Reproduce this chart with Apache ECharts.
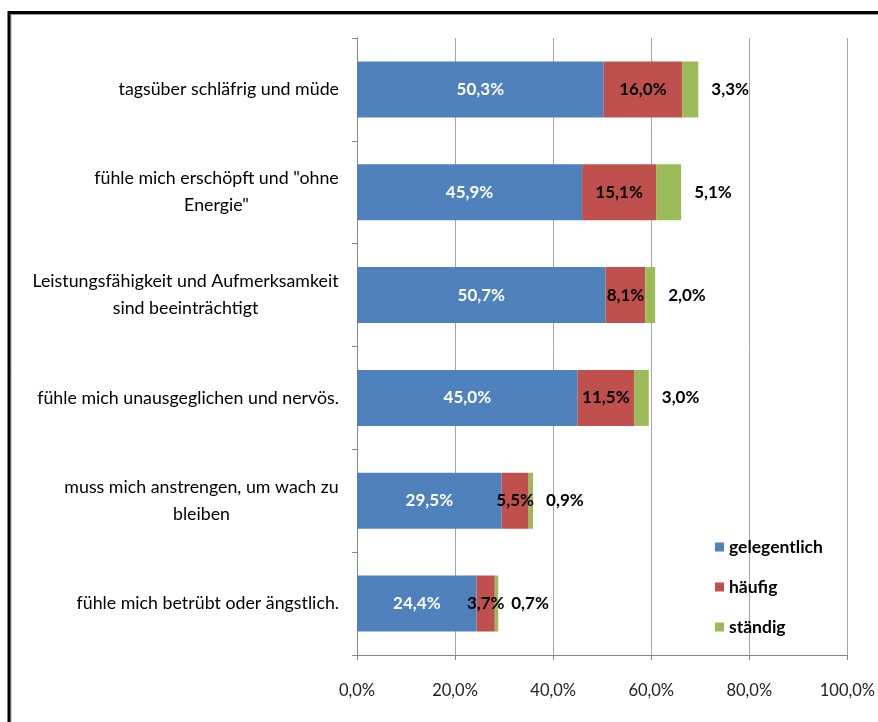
<!DOCTYPE html>
<html>
<head>
<meta charset="utf-8">
<script src="https://cdn.jsdelivr.net/npm/echarts@6/dist/echarts.min.js"></script>
<style>
  html, body { margin: 0; padding: 0; background: #fff; }
  #chart { width: 878px; height: 722px; }
</style>
</head>
<body>
<div id="chart"></div>
<script>
// Kategorien (von oben nach unten)
const categories = [
  'tagsüber schläfrig und müde',
  'fühle mich erschöpft und "ohne\nEnergie"',
  'Leistungsfähigkeit und Aufmerksamkeit\nsind beeinträchtigt',
  'fühle mich unausgeglichen und nervös.',
  'muss mich anstrengen, um wach zu\nbleiben',
  'fühle mich betrübt oder ängstlich.'
];
const seriesNames = ['gelegentlich', 'häufig', 'ständig'];
const gelegentlich = [50.3, 45.9, 50.7, 45.0, 29.5, 24.4];
const haeufig = [16.0, 15.1, 8.1, 11.5, 5.5, 3.7];
const staendig = [3.3, 5.1, 2.0, 3.0, 0.9, 0.7];
const colors = ['#4F81BD', '#C0504D', '#9BBB59'];

const FONT = 'Lato';
const CAT_SIZE = 17.8;
const fmtPct = v => v.toFixed(1).replace('.', ',') + '%';

// Mehrzeilige Beschriftungen: Zeilen untereinander zentriert
const ctx = document.createElement('canvas').getContext('2d');
ctx.font = CAT_SIZE + 'px ' + FONT;
const rich = {};
const labelMap = {};
categories.forEach((c, i) => {
  const lines = c.split('\n');
  if (lines.length === 1) { labelMap[c] = c; return; }
  const w = Math.ceil(Math.max(...lines.map(l => ctx.measureText(l).width)));
  rich['l' + i] = { align: 'center', width: w, fontSize: CAT_SIZE, fontFamily: FONT, color: '#000', lineHeight: 27 };
  labelMap[c] = lines.map(l => '{l' + i + '|' + l + '}').join('\n');
});

const chart = echarts.init(document.getElementById('chart'));

const valueLabel = (color, position, distance) => ({
  show: true,
  position: position,
  distance: distance,
  color: color,
  fontWeight: 'bold',
  fontSize: 17,
  fontFamily: FONT,
  formatter: p => fmtPct(p.value)
});

chart.setOption({
  backgroundColor: '#fff',
  animation: false,
  textStyle: { fontFamily: FONT },
  grid: { left: 357, right: 30, top: 38, bottom: 67, containLabel: false },
  legend: {
    orient: 'vertical',
    left: 710,
    top: 533,
    itemWidth: 9,
    itemHeight: 9,
    itemGap: 22,
    icon: 'rect',
    data: seriesNames,
    textStyle: { fontSize: 17.5, fontWeight: 'bold', color: '#000', fontFamily: FONT }
  },
  xAxis: {
    type: 'value',
    min: 0,
    max: 100,
    interval: 20,
    axisLine: { show: true, lineStyle: { color: '#868686' } },
    axisTick: { show: true, length: 5, lineStyle: { color: '#868686' } },
    splitLine: { show: true, lineStyle: { color: '#a6a6a6' } },
    axisLabel: { formatter: fmtPct, fontSize: 16.5, color: '#222', margin: 27, fontFamily: FONT }
  },
  yAxis: {
    type: 'category',
    inverse: true,
    data: categories,
    axisLine: { show: true, lineStyle: { color: '#868686' } },
    axisTick: { show: true, length: 5, lineStyle: { color: '#868686' } },
    axisLabel: {
      fontSize: CAT_SIZE,
      color: '#000',
      margin: 18,
      lineHeight: 27,
      fontFamily: FONT,
      formatter: v => labelMap[v],
      rich: rich
    }
  },
  series: [
    { name: seriesNames[0], type: 'bar', stack: 'a', data: gelegentlich, barWidth: 56,
      itemStyle: { color: colors[0] }, label: valueLabel('#fff', 'inside', 5) },
    { name: seriesNames[1], type: 'bar', stack: 'a', data: haeufig, barWidth: 56,
      itemStyle: { color: colors[1] }, label: valueLabel('#000', 'inside', 5) },
    { name: seriesNames[2], type: 'bar', stack: 'a', data: staendig, barWidth: 56,
      itemStyle: { color: colors[2] }, label: valueLabel('#000', 'right', 13) }
  ],
  graphic: [
    { type: 'rect', silent: true, shape: { x: 11, y: 14.5, width: 900, height: 720 },
      style: { fill: 'none', stroke: '#9a9a9a', lineWidth: 1 } },
    { type: 'rect', silent: true, shape: { x: 9, y: 12.5, width: 900, height: 720 },
      style: { fill: 'none', stroke: '#000', lineWidth: 3 } }
  ]
});
</script>
</body>
</html>
